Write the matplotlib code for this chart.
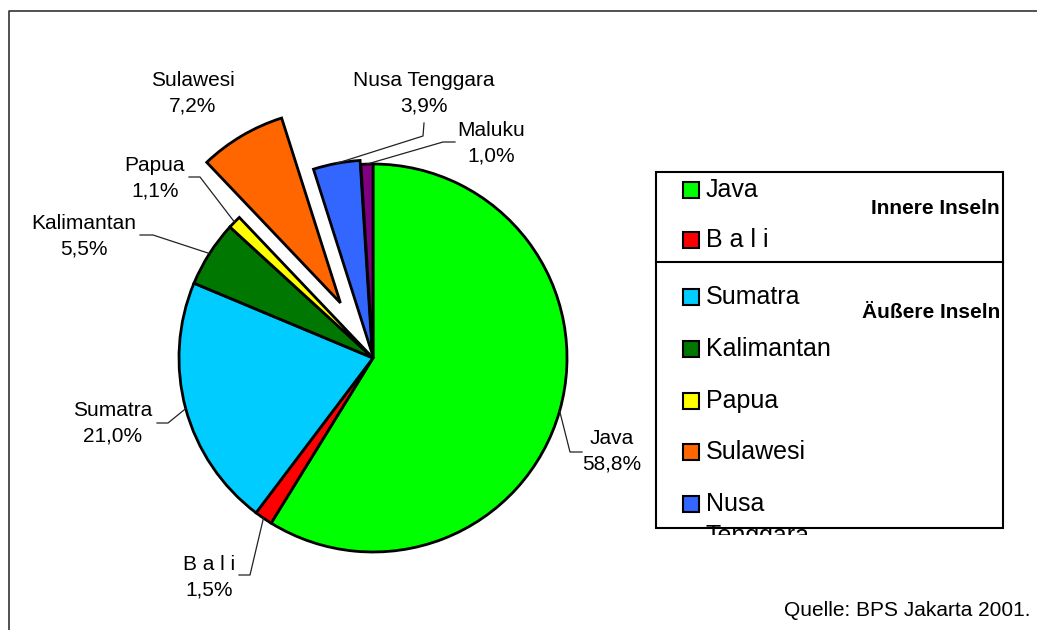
import numpy as np
import matplotlib.pyplot as plt
from matplotlib.patches import Rectangle
from matplotlib.transforms import Bbox, TransformedBbox

plt.rcParams['font.family'] = ['Liberation Sans', 'DejaVu Sans']

# data (share of population, %)
islands = ['Java', 'B a l i', 'Sumatra', 'Kalimantan', 'Papua', 'Sulawesi', 'Nusa Tenggara', 'Maluku']
shares = [58.8, 1.5, 21.0, 5.5, 1.1, 7.2, 3.9, 1.0]
colors = ['#00FF00', '#FF0000', '#00CCFF', '#007700', '#FFFF00', '#FF6600', '#3366FF', '#800080']
explode_px = [0, 0, 0, 0, 0, 64, 4, 0]

legend_names = ['Java', 'B a l i', 'Sumatra', 'Kalimantan', 'Papua', 'Sulawesi', 'Nusa\nTenggara']
groups = ['Innere Inseln', 'Äußere Inseln']

W, H = 1037, 630
fig = plt.figure(figsize=(W / 100, H / 100), dpi=100)
ax = fig.add_axes([0, 0, 1, 1])


def Y(py):
    # pixel row (from top) -> data y
    return H - py


cx, cy, R = 373, 358, 194
wedges, _ = ax.pie(shares, colors=colors, explode=explode_px, startangle=90, counterclock=False,
                   center=(cx, Y(cy)), radius=R, frame=True,
                   wedgeprops=dict(edgecolor='black', linewidth=2.0))
ax.set_xlim(0, W)
ax.set_ylim(0, H)
ax.axis('off')

# outer frame
ax.plot([8.5, 8.5, W + 5], [-5, Y(11), Y(11)], color='#333333', lw=1.2, clip_on=False)

# data labels: text centre (px), elbow points (px)
lab_pos = [(612, 451), (209, 577), (113, 423), (84, 236), (155, 178), (193, 93), (424, 93), (491, 143)]
elbows = [[(570, 452), (582, 452)], [(250, 575), (239, 575)], [(168, 423), (157, 423)],
          [(153, 235), (140, 235)], [(200, 177), (189, 177)], None,
          [(423, 136), (424, 123)], [(443, 142), (455, 142)]]

for w, name, val, pos, elb in zip(wedges, islands, shares, lab_pos, elbows):
    pct = f'{val:.1f}'.replace('.', ',') + '%'
    ax.text(pos[0], Y(pos[1]), f'{name}\n{pct}', ha='center', va='center',
            fontsize=15, linespacing=1.45)
    if elb is None:
        continue
    ang = np.deg2rad((w.theta1 + w.theta2) / 2)
    ax0, ay0 = w.center
    px = ax0 + w.r * np.cos(ang)
    py = ay0 + w.r * np.sin(ang)
    xs = [px] + [e[0] for e in elb]
    ys = [py] + [Y(e[1]) for e in elb]
    ax.plot(xs, ys, color='#222222', lw=0.9)

# legend box
lx0, lx1, ly0, ly1 = 656, 1003, 172, 528
ax.add_patch(Rectangle((lx0, Y(ly1)), lx1 - lx0, ly1 - ly0, fill=False, edgecolor='black', lw=1.5))
ax.plot([lx0, lx1], [Y(262), Y(262)], color='black', lw=1.5)
leg_y = [190, 240, 297, 349, 401, 452, 504]
clip = TransformedBbox(Bbox([[0, (H - 535) / H], [1, 1]]), fig.transFigure)
for name, col, yy in zip(legend_names, colors, leg_y):
    ax.add_patch(Rectangle((683, Y(yy) - 8), 16, 16, facecolor=col, edgecolor='black', lw=1.5))
    if '\n' in name:
        first, second = name.split('\n')
        ax.text(706, Y(yy), first, ha='left', va='center', fontsize=18)
        t = ax.text(706, Y(yy + 32), second, ha='left', va='center', fontsize=18)
        t.set_clip_box(clip)
        t.set_clip_on(True)
    else:
        ax.text(706, Y(yy), name, ha='left', va='center', fontsize=18)

ax.text(1000, Y(208), groups[0], ha='right', va='center', fontsize=15, fontweight='bold')
ax.text(1000, Y(313), groups[1], ha='right', va='center', fontsize=15, fontweight='bold')

ax.text(1030, Y(610), 'Quelle: BPS Jakarta 2001.', ha='right', va='center', fontsize=15)

fig.savefig('out.png', dpi=100)
